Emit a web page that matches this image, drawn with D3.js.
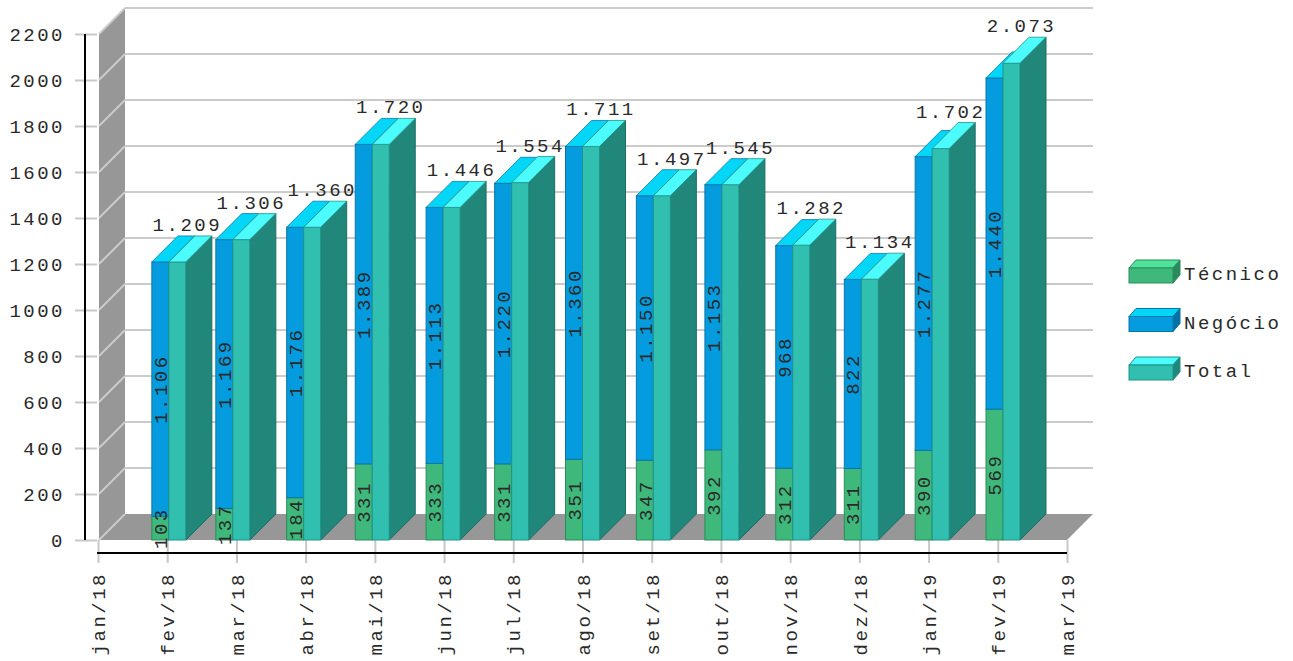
<!DOCTYPE html>
<html>
<head>
<meta charset="utf-8">
<script src="https://cdn.jsdelivr.net/npm/d3@7"></script>
<style>
  body { margin: 0; background: #fff; }
  svg text { font-family: 'Courier New', 'Liberation Mono', monospace; font-size: 19px; letter-spacing: 2.5px; fill: #2a2a2a; }
</style>
</head>
<body>
<div id="chart"></div>
<script>
// axis labels (month ticks) and bar months
const tickLabels = ['jan/18', 'fev/18', 'mar/18', 'abr/18', 'mai/18', 'jun/18', 'jul/18',
  'ago/18', 'set/18', 'out/18', 'nov/18', 'dez/18', 'jan/19', 'fev/19', 'mar/19'];
const barMonths = ['2018-02', '2018-03', '2018-04', '2018-05', '2018-06', '2018-07', '2018-08',
  '2018-09', '2018-10', '2018-11', '2018-12', '2019-01', '2019-02'];

// series
const tecnico = [103, 137, 184, 331, 333, 331, 351, 347, 392, 312, 311, 390, 569];
const negocio = [1106, 1169, 1176, 1389, 1113, 1220, 1360, 1150, 1153, 968, 822, 1277, 1440];
const total = [1209, 1306, 1360, 1720, 1446, 1554, 1711, 1497, 1545, 1282, 1134, 1702, 2073];

const seriesNames = ['Técnico', 'Negócio', 'Total'];
const yTicks = d3.range(0, 2201, 200);

const colors = {
  'Técnico': { front: '#3fb97b', top: '#4fe39a', side: '#2b8a5b', stroke: '#2a8c5c' },
  'Negócio': { front: '#049bdf', top: '#04d6f7', side: '#0572a6', stroke: '#0a76a8' },
  'Total':   { front: '#31c0b0', top: '#4cfbfb', side: '#21877a', stroke: '#1f9488' }
};

const width = 1293, height = 661;
const dx = 26, dy = 26;          // depth of the 3d effect
const bw = 17;                   // bar width

const svg = d3.select('#chart').append('svg')
  .attr('width', width)
  .attr('height', height);

const parseMonth = d3.timeParse('%Y-%m');
const barDates = barMonths.map(parseMonth);

const xTicks = d3.scalePoint().domain(tickLabels).range([98, 1067]);
const xTime = d3.scaleTime()
  .domain([new Date(2018, 0, 1), new Date(2019, 2, 1)])
  .range([98, 1067]);
const y = d3.scaleLinear().domain([0, 2200]).range([540, 34]);

const fmt = d3.formatLocale({ decimal: ',', thousands: '.', grouping: [3], currency: ['R$', ''] }).format(',d');

const x0 = 99, x1 = 1067;

// back wall grid
const walls = svg.append('g').attr('class', 'walls');

walls.append('polygon')
  .attr('points', [[x0, y(0)], [x0, y(2200)], [x0 + dx, y(2200) - dy], [x0 + dx, y(0) - dy]].join(' '))
  .attr('fill', '#979797');

walls.append('polygon')
  .attr('points', [[x0, y(0)], [x1, y(0)], [x1 + dx, y(0) - dy], [x0 + dx, y(0) - dy]].join(' '))
  .attr('fill', '#979797');

walls.selectAll('.grid-back').data(yTicks.filter(d => d > 0)).enter()
  .append('line')
  .attr('class', 'grid-back')
  .attr('x1', x0 + dx).attr('x2', x1 + dx)
  .attr('y1', d => y(d) - dy).attr('y2', d => y(d) - dy)
  .attr('stroke', '#cbcbcb').attr('stroke-width', 2);

walls.selectAll('.grid-side').data(yTicks).enter()
  .append('line')
  .attr('class', 'grid-side')
  .attr('x1', x0).attr('x2', x0 + dx)
  .attr('y1', d => y(d)).attr('y2', d => y(d) - dy)
  .attr('stroke', '#cbcbcb').attr('stroke-width', 2);

// y axis
const yAxis = d3.axisLeft(y)
  .tickValues(yTicks)
  .tickSize(22)
  .tickPadding(10)
  .tickFormat(d3.format('d'));

const gy = svg.append('g')
  .attr('class', 'y axis')
  .attr('transform', 'translate(97,0)')
  .call(yAxis);
gy.select('.domain').remove();
gy.selectAll('.tick line').attr('stroke', '#c8c8c8').attr('stroke-width', 2);
gy.selectAll('.tick text').attr('font-size', null).attr('font-family', null);
gy.attr('font-size', null).attr('font-family', null);

svg.append('line')
  .attr('x1', 85).attr('x2', 85)
  .attr('y1', y(2200)).attr('y2', y(0))
  .attr('stroke', '#000').attr('stroke-width', 2);

// x axis
const xAxis = d3.axisBottom(xTicks)
  .tickSize(23)
  .tickPadding(0);

const gx = svg.append('g')
  .attr('class', 'x axis')
  .attr('transform', 'translate(0,' + y(0) + ')')
  .call(xAxis);
gx.select('.domain').remove();
gx.attr('font-size', null).attr('font-family', null);
gx.selectAll('.tick line').attr('stroke', '#c8c8c8').attr('stroke-width', 2);
gx.selectAll('.tick text')
  .attr('transform', 'rotate(-90)')
  .attr('text-anchor', 'end')
  .attr('x', -32)
  .attr('y', 0)
  .attr('dy', '0.35em');

svg.append('line')
  .attr('x1', 97).attr('x2', x1)
  .attr('y1', 553).attr('y2', 553)
  .attr('stroke', '#000').attr('stroke-width', 2);

// bars
const data = barDates.map((d, i) => ({
  date: d,
  tecnico: tecnico[i],
  negocio: negocio[i],
  total: total[i]
}));

function topFace(xl, xr, yt) {
  return [[xl, yt], [xr, yt], [xr + dx, yt - dy], [xl + dx, yt - dy]].join(' ');
}
function sideFace(xr, yt, yb) {
  return [[xr, yt], [xr + dx, yt - dy], [xr + dx, yb - dy], [xr, yb]].join(' ');
}

const groups = svg.append('g').attr('class', 'bars')
  .selectAll('.group').data(data).enter()
  .append('g')
  .attr('class', 'group');

groups.each(function(d) {
  const g = d3.select(this);
  const xc = xTime(d.date);
  const sl = xc - bw, sr = xc;
  const tl = xc, tr = xc + bw;
  const yTec = y(d.tecnico);
  const yNeg = y(d.tecnico + d.negocio);
  const yTot = y(d.total);

  // stacked bar
  g.append('rect')
    .attr('x', sl).attr('y', yTec).attr('width', bw).attr('height', y(0) - yTec)
    .attr('fill', colors['Técnico'].front).attr('stroke', colors['Técnico'].stroke);
  g.append('rect')
    .attr('x', sl).attr('y', yNeg).attr('width', bw).attr('height', yTec - yNeg)
    .attr('fill', colors['Negócio'].front).attr('stroke', colors['Negócio'].stroke);
  g.append('polygon')
    .attr('points', topFace(sl, sr, yNeg))
    .attr('fill', colors['Negócio'].top).attr('stroke', colors['Negócio'].stroke).attr('stroke-width', 0.8);

  // total bar
  g.append('polygon')
    .attr('points', sideFace(tr, yTot, y(0)))
    .attr('fill', colors['Total'].side).attr('stroke', '#1a6e63').attr('stroke-width', 1);
  g.append('rect')
    .attr('x', tl).attr('y', yTot).attr('width', bw).attr('height', y(0) - yTot)
    .attr('fill', colors['Total'].front).attr('stroke', colors['Total'].stroke);
  g.append('polygon')
    .attr('points', topFace(tl, tr, yTot))
    .attr('fill', colors['Total'].top).attr('stroke', colors['Total'].stroke).attr('stroke-width', 0.8);

  // labels
  g.append('text')
    .attr('transform', 'translate(' + (sl + bw / 2) + ',' + ((yTec + y(0)) / 2) + ') rotate(-90)')
    .attr('text-anchor', 'middle')
    .attr('dy', '0.35em')
    .text(fmt(d.tecnico));
  g.append('text')
    .attr('transform', 'translate(' + (sl + bw / 2) + ',' + ((yNeg + yTec) / 2) + ') rotate(-90)')
    .attr('text-anchor', 'middle')
    .attr('dy', '0.35em')
    .text(fmt(d.negocio));
  g.append('text')
    .attr('x', xc + 18.5)
    .attr('y', yTot - dy - 5)
    .attr('text-anchor', 'middle')
    .text(fmt(d.total));
});

// legend
const legend = svg.append('g').attr('class', 'legend')
  .selectAll('.item').data(seriesNames).enter()
  .append('g')
  .attr('class', 'item')
  .attr('transform', (d, i) => 'translate(1129,' + (268 + i * 48.5) + ')');

const lw = 44, lh = 15, ld = 7;
legend.append('polygon')
  .attr('points', [[0, 0], [lw, 0], [lw + ld, -ld - 1], [ld, -ld - 1]].join(' '))
  .attr('fill', d => colors[d].top).attr('stroke', d => colors[d].stroke);
legend.append('polygon')
  .attr('points', [[lw, 0], [lw + ld, -ld - 1], [lw + ld, lh - ld - 1], [lw, lh]].join(' '))
  .attr('fill', d => colors[d].side).attr('stroke', d => colors[d].stroke);
legend.append('rect')
  .attr('width', lw).attr('height', lh)
  .attr('fill', d => colors[d].front).attr('stroke', d => colors[d].stroke);
legend.append('text')
  .attr('x', 55)
  .attr('y', 12)
  .text(d => d);
</script>
</body>
</html>
